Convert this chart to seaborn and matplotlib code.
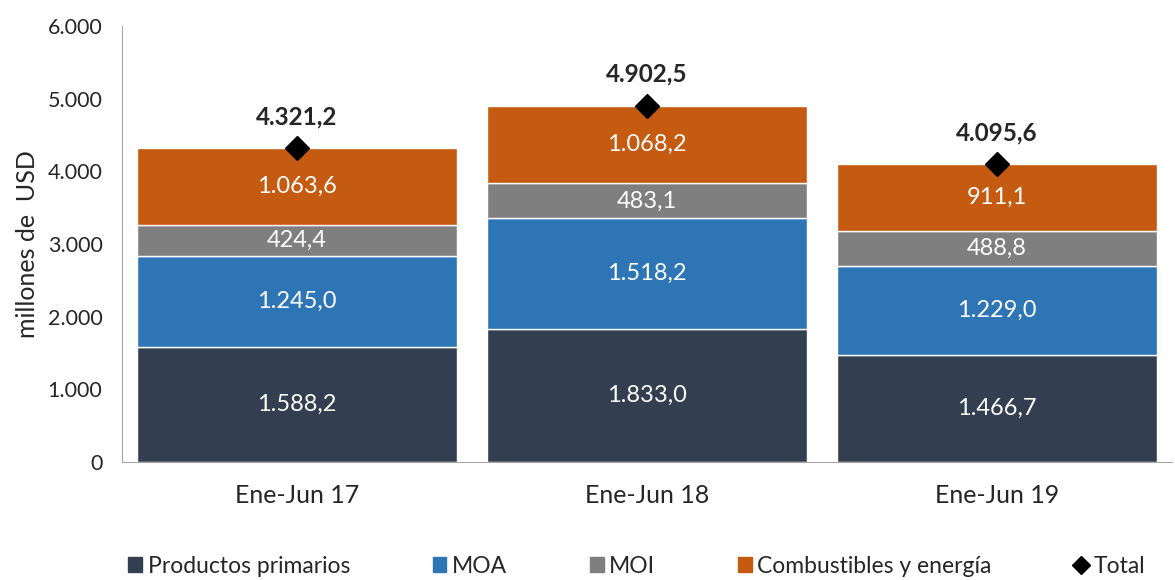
import numpy as np
import pandas as pd
import seaborn as sb
import matplotlib.pyplot as plt
from matplotlib.lines import Line2D
from matplotlib.patches import Patch

periods = ['Ene-Jun 17', 'Ene-Jun 18', 'Ene-Jun 19']
primarios = [1588.2, 1833.0, 1466.7]
moa = [1245.0, 1518.2, 1229.0]
moi = [424.4, 483.1, 488.8]
combustibles = [1063.6, 1068.2, 911.1]
totals = [4321.2, 4902.5, 4095.6]

series = ['Productos primarios', 'MOA', 'MOI', 'Combustibles y energía']
colors = ['#333F50', '#2E75B6', '#7F7F7F', '#C55A11']


def fmt(v):
    s = '{:,.1f}'.format(v)
    return s.replace(',', 'X').replace('.', ',').replace('X', '.')


sb.set_style('white')
plt.rcParams['font.family'] = ['Lato', 'DejaVu Sans']

df = pd.DataFrame({'periodo': periods, series[0]: primarios, series[1]: moa,
                   series[2]: moi, series[3]: combustibles})

fig = plt.figure(figsize=(11.75, 5.8), dpi=100)
ax = fig.add_axes([0.1038, 0.2034, 0.8936, 0.752])

bottom = np.zeros(len(periods))
for name, col in zip(series, colors):
    sb.barplot(data=df, x='periodo', y=name, color=col, width=0.915,
               bottom=bottom, ax=ax, saturation=1)
    for i, v in enumerate(df[name]):
        ax.text(i, bottom[i] + v / 2, fmt(v), ha='center', va='center',
                color='white', fontsize=17)
    bottom = bottom + df[name].values

ax.plot(range(len(periods)), totals, linestyle='none', marker='D',
        color='black', markersize=12)
for i, t in enumerate(totals):
    ax.text(i, t + 430, fmt(t), ha='center', va='center', fontsize=17.5,
            fontweight='bold')

ax.set_ylim(0, 6000)
ax.set_xlim(-0.5, 2.5)
ax.set_yticks(range(0, 6001, 1000))
ax.set_yticklabels([fmt(v)[:-2] if v else '0' for v in range(0, 6001, 1000)], fontsize=15.5)
ax.set_xticks([0, 1, 2])
ax.set_xticklabels(periods, fontsize=18)
ax.set_xticks([-0.5, 0.5, 1.5, 2.5], minor=True)
ax.tick_params(axis='x', which='major', length=0, pad=16)
ax.tick_params(axis='x', which='minor', length=7, color='#A6A6A6', direction='out')
ax.tick_params(axis='y', length=6, color='#A6A6A6', direction='out', pad=8)
ax.set_xlabel('')
ax.set_ylabel('millones de  USD', fontsize=18, labelpad=6)
for s in ['top', 'right']:
    ax.spines[s].set_visible(False)
for s in ['left', 'bottom']:
    ax.spines[s].set_color('#A6A6A6')

handles = [Patch(color=c, label=n) for n, c in zip(series, colors)]
handles.append(Line2D([], [], linestyle='none', marker='D', color='black',
                      markersize=9, label='Total'))
fig.legend(handles=handles, loc='lower center', bbox_to_anchor=(0.542, -0.03),
           ncol=5, frameon=False, fontsize=16.5, handlelength=0.6, handleheight=0.6,
           handletextpad=0.25, columnspacing=3.6)

fig.savefig('out.png', dpi=100)
